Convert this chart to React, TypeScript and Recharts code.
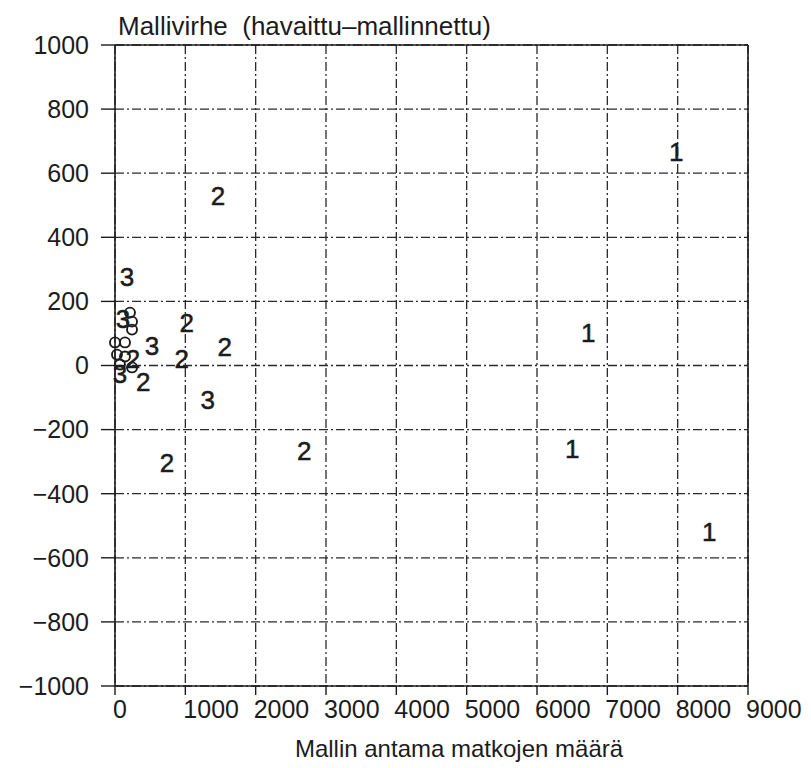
import React from "react";
import {
  ScatterChart, Scatter, XAxis, YAxis, CartesianGrid, ReferenceLine,
} from "recharts";

// residual = observed - modelled, x = trips given by the model
const X_TICKS = [0, 1000, 2000, 3000, 4000, 5000, 6000, 7000, 8000, 9000];
const Y_TICKS = [-1000, -800, -600, -400, -200, 0, 200, 400, 600, 800, 1000];

const group1 = [
  { x: 7980, y: 665 },
  { x: 6730, y: 100 },
  { x: 6500, y: -262 },
  { x: 8450, y: -518 },
];

const group2 = [
  { x: 1465, y: 530 },
  { x: 1020, y: 134 },
  { x: 1560, y: 59 },
  { x: 950, y: 19 },
  { x: 740, y: -303 },
  { x: 2690, y: -268 },
  { x: 400, y: -50 },
  { x: 255, y: 20 },
];

const group3 = [
  { x: 170, y: 275 },
  { x: 114, y: 144 },
  { x: 525, y: 62 },
  { x: 1320, y: -109 },
  { x: 71, y: -28 },
];

// small zones drawn as open circles
const group0 = [
  { x: 213, y: 165 },
  { x: 242, y: 137 },
  { x: 242, y: 112 },
  { x: 0, y: 72 },
  { x: 142, y: 72 },
  { x: 28, y: 34 },
  { x: 142, y: 28 },
  { x: 71, y: 3 },
  { x: 242, y: -6 },
];

const FONT = '"Liberation Sans", Arial, Helvetica, sans-serif';
const INK = "#1c1c1c";

const digitShape = (label: string) => (props: any) => {
  const { cx, cy } = props;
  return (
    <text
      x={cx}
      y={cy}
      textAnchor="middle"
      dominantBaseline="central"
      fontFamily={FONT}
      fontSize={26}
      fill={INK}
      stroke={INK}
      strokeWidth={0.5}
    >
      {label}
    </text>
  );
};

const ringShape = (props: any) => {
  const { cx, cy } = props;
  return <circle cx={cx} cy={cy} r={5} fill="none" stroke={INK} strokeWidth={1.9} />;
};

const XTick = (props: any) => {
  const { x, y, payload } = props;
  return (
    <text x={x - 2} y={y} dy="0.71em" textAnchor="start" fontFamily={FONT} fontSize={25} fill={INK}>
      {payload.value}
    </text>
  );
};

const fmtY = (v: number) => String(v).replace("-", "\u2212");

export default function App() {
  return (
    <div style={{ position: "absolute", left: 0, top: 0, width: 811, height: 768, background: "#fff" }}>
      <div
        style={{
          position: "absolute", left: 118, top: 11, fontFamily: FONT, fontSize: 26,
          color: INK, whiteSpace: "pre",
        }}
      >
        {"Mallivirhe  (havaittu\u2013mallinnettu)"}
      </div>
      <ScatterChart
        width={811}
        height={768}
        margin={{ top: 45, right: 63, bottom: 42, left: 0 }}
      >
        <CartesianGrid stroke="#2a2a2a" strokeWidth={1.3} strokeDasharray="9 3 2 3" />
        <XAxis
          type="number"
          dataKey="x"
          domain={[0, 9000]}
          ticks={X_TICKS}
          interval={0}
          height={40}
          tickSize={9}
          tickMargin={5}
          tick={<XTick />}
          axisLine={{ stroke: INK, strokeWidth: 1.6 }}
          tickLine={{ stroke: INK, strokeWidth: 1.4 }}
        />
        <YAxis
          type="number"
          dataKey="y"
          domain={[-1000, 1000]}
          ticks={Y_TICKS}
          interval={0}
          width={115}
          tickSize={14}
          tickMargin={12}
          tickFormatter={fmtY}
          tick={{ fontFamily: FONT, fontSize: 25, fill: INK }}
          axisLine={{ stroke: INK, strokeWidth: 1.6 }}
          tickLine={{ stroke: INK, strokeWidth: 1.4 }}
        />
        <ReferenceLine y={1000} stroke={INK} strokeWidth={1.6} />
        <ReferenceLine x={9000} stroke={INK} strokeWidth={1.6} />
        <Scatter data={group0} shape={ringShape} isAnimationActive={false} />
        <Scatter data={group3} shape={digitShape("3")} isAnimationActive={false} />
        <Scatter data={group2} shape={digitShape("2")} isAnimationActive={false} />
        <Scatter data={group1} shape={digitShape("1")} isAnimationActive={false} />
      </ScatterChart>
      <div
        style={{
          position: "absolute", left: 0, width: 918, top: 735, textAlign: "center",
          fontFamily: FONT, fontSize: 24, color: INK,
        }}
      >
        Mallin antama matkojen määrä
      </div>
    </div>
  );
}
